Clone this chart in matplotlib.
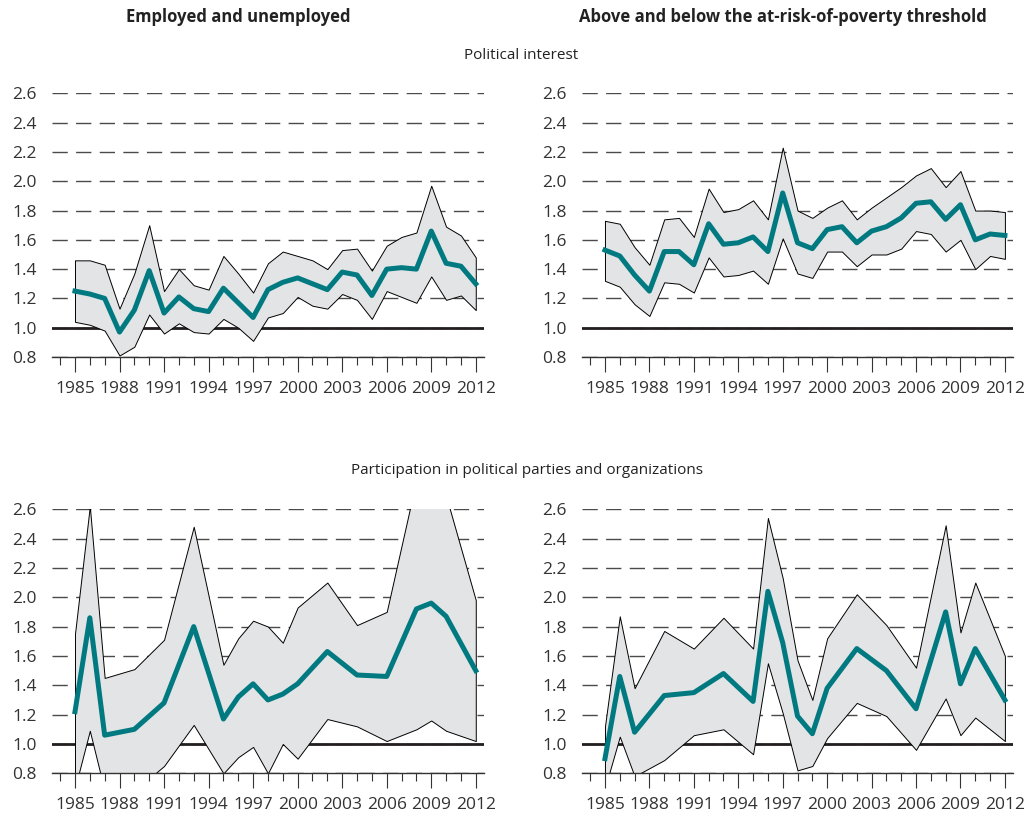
import matplotlib
matplotlib.use("Agg")
import matplotlib.pyplot as plt
from matplotlib.ticker import MultipleLocator

plt.rcParams['font.family'] = ['Open Sans', 'DejaVu Sans']

# --- data -------------------------------------------------------------
years_annual = list(range(1985, 2013))
years_sparse = [1985, 1986, 1987, 1989, 1991, 1993, 1995, 1996, 1997, 1998,
                1999, 2000, 2002, 2004, 2006, 2008, 2009, 2010, 2012]

# Political interest: employed vs unemployed
emp_pi_mean = [1.25, 1.23, 1.20, 0.97, 1.12, 1.39, 1.10, 1.21, 1.13, 1.11,
               1.27, 1.17, 1.07, 1.26, 1.31, 1.34, 1.30, 1.26, 1.38, 1.36,
               1.22, 1.40, 1.41, 1.40, 1.66, 1.44, 1.42, 1.30]
emp_pi_upper = [1.46, 1.46, 1.43, 1.13, 1.37, 1.70, 1.25, 1.40, 1.29, 1.26,
                1.49, 1.37, 1.24, 1.44, 1.52, 1.49, 1.46, 1.40, 1.53, 1.54,
                1.39, 1.56, 1.62, 1.65, 1.97, 1.69, 1.63, 1.48]
emp_pi_lower = [1.04, 1.02, 0.98, 0.81, 0.87, 1.09, 0.96, 1.03, 0.97, 0.96,
                1.06, 1.00, 0.91, 1.07, 1.10, 1.21, 1.15, 1.13, 1.23, 1.19,
                1.06, 1.25, 1.21, 1.17, 1.35, 1.19, 1.22, 1.12]

# Political interest: above vs below poverty threshold
pov_pi_mean = [1.53, 1.49, 1.36, 1.25, 1.52, 1.52, 1.43, 1.71, 1.57, 1.58,
               1.62, 1.52, 1.92, 1.58, 1.54, 1.67, 1.69, 1.58, 1.66, 1.69,
               1.75, 1.85, 1.86, 1.74, 1.84, 1.60, 1.64, 1.63]
pov_pi_upper = [1.73, 1.71, 1.55, 1.43, 1.74, 1.75, 1.62, 1.95, 1.79, 1.81,
                1.87, 1.74, 2.23, 1.80, 1.75, 1.82, 1.87, 1.74, 1.82, 1.89,
                1.96, 2.04, 2.09, 1.96, 2.07, 1.80, 1.80, 1.79]
pov_pi_lower = [1.32, 1.28, 1.16, 1.08, 1.31, 1.30, 1.24, 1.48, 1.35, 1.36,
                1.39, 1.30, 1.61, 1.37, 1.34, 1.52, 1.52, 1.42, 1.50, 1.50,
                1.54, 1.66, 1.64, 1.52, 1.60, 1.40, 1.49, 1.47]

# Participation: employed vs unemployed
emp_pp_mean = [1.22, 1.86, 1.06, 1.10, 1.28, 1.80, 1.17, 1.32, 1.41, 1.30,
               1.34, 1.41, 1.63, 1.47, 1.46, 1.92, 1.96, 1.87, 1.50]
emp_pp_upper = [1.75, 2.62, 1.45, 1.51, 1.71, 2.48, 1.54, 1.72, 1.84, 1.80,
                1.69, 1.93, 2.10, 1.81, 1.90, 2.80, 2.75, 2.69, 1.98]
emp_pp_lower = [0.70, 1.09, 0.68, 0.68, 0.85, 1.13, 0.80, 0.91, 0.98, 0.80,
                1.00, 0.90, 1.17, 1.12, 1.02, 1.10, 1.16, 1.09, 1.02]

# Participation: above vs below poverty threshold
pov_pp_mean = [0.90, 1.46, 1.08, 1.33, 1.35, 1.48, 1.29, 2.04, 1.69, 1.19,
               1.07, 1.38, 1.65, 1.50, 1.24, 1.90, 1.41, 1.65, 1.30]
pov_pp_upper = [1.12, 1.87, 1.38, 1.77, 1.65, 1.86, 1.65, 2.54, 2.13, 1.57,
                1.30, 1.72, 2.02, 1.81, 1.52, 2.49, 1.76, 2.10, 1.60]
pov_pp_lower = [0.70, 1.05, 0.78, 0.89, 1.06, 1.10, 0.93, 1.55, 1.21, 0.82,
                0.85, 1.04, 1.28, 1.19, 0.96, 1.31, 1.06, 1.18, 1.02]

col_titles = ["Employed and unemployed",
              "Above and below the at-risk-of-poverty threshold"]
row_titles = ["Political interest",
              "Participation in political parties and organizations"]

TEAL = '#007a80'
FILL = '#e3e4e6'
DARK = '#333333'

fig = plt.figure(figsize=(10.29, 8.18), dpi=100)

panels = [
    ([0.0505, 0.5636, 0.4198, 0.3227], years_annual, emp_pi_mean, emp_pi_upper, emp_pi_lower),
    ([0.5656, 0.5636, 0.4189, 0.3227], years_annual, pov_pi_mean, pov_pi_upper, pov_pi_lower),
    ([0.0505, 0.0546, 0.4198, 0.3235], years_sparse, emp_pp_mean, emp_pp_upper, emp_pp_lower),
    ([0.5656, 0.0546, 0.4189, 0.3235], years_sparse, pov_pp_mean, pov_pp_upper, pov_pp_lower),
]

for rect, yrs, mean, upper, lower in panels:
    ax = fig.add_axes(rect)
    ax.set_xlim(1983.45, 2012.55)
    ax.set_ylim(0.8, 2.603)

    # dashed reference grid, hidden under the band
    ax.yaxis.grid(True, color='#4a4a4a', linewidth=1.0, linestyle=(0, (11, 6)), zorder=0)
    ax.set_axisbelow(True)
    ax.axhline(1.0, color='#231f20', linewidth=2.0, zorder=1)

    # band with thin black outline (incl. the vertical end edges)
    ax.fill_between(yrs, lower, upper, facecolor=FILL, edgecolor='black',
                    linewidth=0.7, zorder=2)
    ax.plot(yrs, mean, color=TEAL, linewidth=3.6, zorder=4)

    ax.set_xticks(range(1985, 2013, 3))
    ax.xaxis.set_minor_locator(MultipleLocator(1))
    ax.yaxis.set_major_locator(MultipleLocator(0.2))
    ax.yaxis.set_major_formatter(plt.FuncFormatter(lambda v, p: f"{v:.1f}"))

    ax.tick_params(axis='x', which='major', direction='out', length=11, width=0.8,
                   color=DARK, labelsize=12.5, labelcolor=DARK, pad=6)
    ax.tick_params(axis='x', which='minor', direction='out', length=5.5, width=0.8,
                   color=DARK)
    ax.tick_params(axis='y', length=0, labelsize=12.5, labelcolor=DARK, pad=11)

    for s in ('left', 'right', 'top'):
        ax.spines[s].set_visible(False)
    ax.spines['bottom'].set_color(DARK)
    ax.spines['bottom'].set_linewidth(1.0)

fig.text(0.232, 0.979, col_titles[0], ha='center', va='center',
         fontsize=12, fontweight='bold', color='#222222')
fig.text(0.761, 0.979, col_titles[1], ha='center', va='center',
         fontsize=12, fontweight='bold', color='#222222')
fig.text(0.506, 0.932, row_titles[0], ha='center', va='center',
         fontsize=11, color='#222222')
fig.text(0.512, 0.425, row_titles[1], ha='center', va='center',
         fontsize=11, color='#222222')

fig.savefig('out.png', dpi=100)
